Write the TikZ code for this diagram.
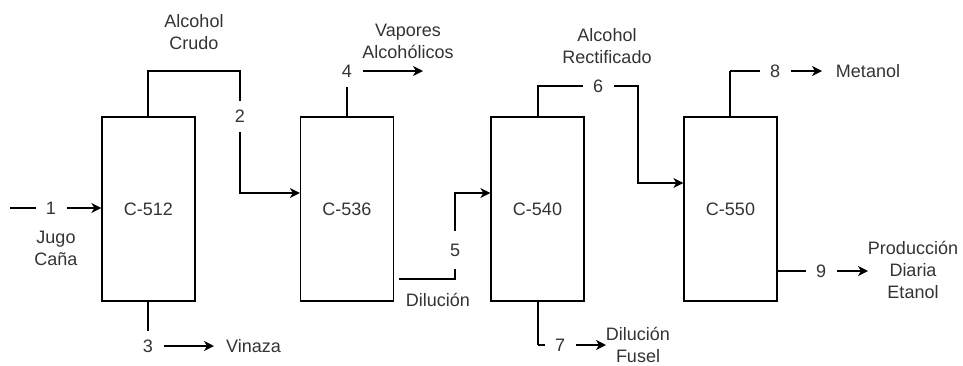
\documentclass[tikz,border=0pt]{standalone}
\usepackage{fontspec}
\setmainfont{Liberation Sans}
\usetikzlibrary{arrows.meta}
\definecolor{txt}{HTML}{333333}
\tikzset{
  col/.style={draw=black, line width=1.3pt, minimum width=93pt, minimum height=184pt, inner sep=0pt, text=txt, font=\fontsize{18}{22}\selectfont},
  pipe/.style={line width=1.3pt, draw=black},
  arr/.style={pipe, -{Stealth[length=10pt, width=10pt, inset=3pt]}},
  num/.style={fill=white, inner sep=0pt, minimum width=31pt, minimum height=31pt, text=txt, font=\fontsize{18}{22}\selectfont},
  lbl/.style={align=center, inner sep=0pt, text=txt, font=\fontsize{18}{22}\selectfont}
}
\begin{document}
\begin{tikzpicture}[x=1pt, y=-1pt]
\useasboundingbox (0,0) rectangle (963,365);
% columns
\node[col] (c512) at (148.5,209) {C-512};
\node[col] (c536) at (347,209) {C-536};
\node[col] (c540) at (537.5,209) {C-540};
\node[col] (c550) at (730.5,209) {C-550};
% free ends and bends
\coordinate (s1) at (10,208);
\coordinate (b2a) at (148,71);
\coordinate (b2b) at (240,71);
\coordinate (b2c) at (240,193);
\coordinate (e3a) at (148,346);
\coordinate (e3) at (214,346);
\coordinate (b4) at (347,71);
\coordinate (e4) at (423,71);
\coordinate (s5) at (399,279);
\coordinate (b5a) at (455,279);
\coordinate (b5b) at (455,193);
\coordinate (b6a) at (538,86);
\coordinate (b6b) at (638,86);
\coordinate (b6c) at (638,183);
\coordinate (b7) at (538,345);
\coordinate (e7) at (606,345);
\coordinate (b8) at (730,71);
\coordinate (e8) at (822,71);
\coordinate (s9) at (777,271);
\coordinate (e9) at (868,271);
% stream lines
\draw[arr] (s1) -- (c512.west |- s1);
\draw[arr] (c512.north -| b2a) -- (b2a) -- (b2b) -- (b2c) -- (c536.west |- b2c);
\draw[pipe] (c512.south -| e3a) -- (e3a);
\draw[arr] (e3a) -- (e3);
\draw[pipe] (c536.north -| b4) -- (b4);
\draw[arr] (b4) -- (e4);
\draw[arr] (s5) -- (b5a) -- (b5b) -- (c540.west |- b5b);
\draw[arr] (c540.north -| b6a) -- (b6a) -- (b6b) -- (b6c) -- (c550.west |- b6c);
\draw[pipe] (c540.south -| b7) -- (b7);
\draw[arr] (b7) -- (e7);
\draw[pipe] (c550.north -| b8) -- (b8);
\draw[arr] (b8) -- (e8);
\draw[arr] (s9) -- (e9);
% stream numbers
\node[num] (n1) at (51,208) {1};
\node[num] (n2) at (240,116) {2};
\node[num] (n3) at (148,346) {3};
\node[num] (n4) at (347,71) {4};
\node[num, minimum height=38pt] (n5) at (455,250) {5};
\node[num] (n6) at (598,86) {6};
\node[num] (n7) at (560,345) {7};
\node[num] (n8) at (775,71) {8};
\node[num] (n9) at (821,271) {9};
% texts
\node[lbl] (t1) at (56,248) {Jugo\\Caña};
\node[lbl] (t2) at (194,32) {Alcohol\\Crudo};
\node[lbl, anchor=west] (t3) at (226,346) {Vinaza};
\node[lbl] (t4) at (408,41) {Vapores\\Alcohólicos};
\node[lbl] (t5) at (438,300) {Dilución};
\node[lbl] (t6) at (607,46) {Alcohol\\Rectificado};
\node[lbl] (t7) at (638,345) {Dilución\\Fusel};
\node[lbl] (t8) at (868,71) {Metanol};
\node[lbl] (t9) at (913,270) {Producción\\Diaria\\Etanol};
\end{tikzpicture}
\end{document}
